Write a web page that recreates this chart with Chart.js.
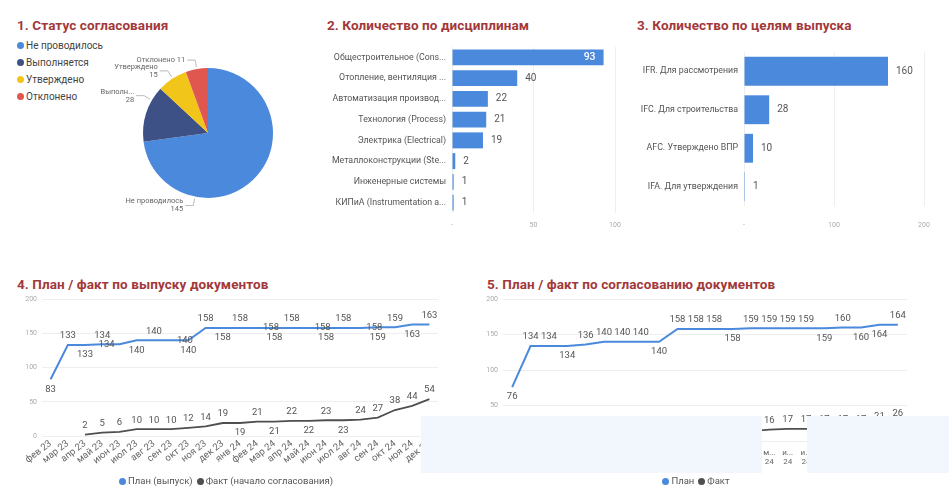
<!DOCTYPE html>
<html><head><meta charset="utf-8">
<script src="https://cdn.jsdelivr.net/npm/chart.js@4.4.0/dist/chart.umd.min.js"></script>
<style>
body{margin:0;width:949px;height:493px;background:#fff;position:relative;overflow:hidden;font-family:Roboto,sans-serif}
.box{position:absolute}
.title{position:absolute;font-weight:700;font-size:13.5px;color:#a3383a;white-space:nowrap;line-height:18px;letter-spacing:0.1px}
.mask{position:absolute;background:#f2f6fd;z-index:5}
.plegend{position:absolute;left:17px;top:37px;font-size:10px;color:#444;line-height:17px}
.plegend div{display:flex;align-items:center}
.dot{display:inline-block;width:7px;height:7px;border-radius:50%;margin-right:2px}
.llegend{position:absolute;display:flex;justify-content:center;font-size:9.5px;color:#555;line-height:14px}
.llegend span.it{display:flex;align-items:center;margin:0 2px}
</style></head><body>
<div class="title" style="left:17px;top:16px">1. Статус согласования</div>
<div class="title" style="left:327px;top:16px">2. Количество по дисциплинам</div>
<div class="title" style="left:637px;top:16px">3. Количество по целям выпуска</div>
<div class="title" style="left:17px;top:275px">4. План / факт по выпуску документов</div>
<div class="title" style="left:487px;top:275px">5. План / факт по согласованию документов</div>

<div class="plegend" id="pieLegend"></div>
<div class="box" style="left:60px;top:40px;width:296px;height:186px"><canvas id="c1"></canvas></div>
<div class="box" style="left:320px;top:35px;width:310px;height:200px"><canvas id="c2"></canvas></div>
<div class="box" style="left:630px;top:35px;width:319px;height:200px"><canvas id="c3"></canvas></div>
<div class="box" style="left:0px;top:290px;width:450px;height:190px"><canvas id="c4"></canvas></div>
<div class="box" style="left:470px;top:290px;width:449px;height:190px"><canvas id="c5"></canvas></div>
<div class="llegend" id="leg4" style="left:0;width:452px;top:474px"></div>
<div class="llegend" id="leg5" style="left:470px;width:452px;top:474px"></div>

<div class="mask" style="left:421px;top:416px;width:341px;height:57px"></div>
<div class="mask" style="left:807px;top:416px;width:142px;height:57px"></div>

<script>
// ---------- DATA ----------
const statusLabels = ['Не проводилось','Выполняется','Утверждено','Отклонено'];
const statusValues = [145, 28, 15, 11];

const disciplineLabels = ['Общестроительное (Cons...','Отопление, вентиляция ...','Автоматизация производ...','Технология (Process)','Электрика (Electrical)','Металлоконструкции (Ste...','Инженерные системы','КИПиА (Instrumentation a...'];
const disciplineValues = [93, 40, 22, 21, 19, 2, 1, 1];

const purposeLabels = ['IFR. Для рассмотрения','IFC. Для строительства','AFC. Утверждено ВПР','IFA. Для утверждения'];
const purposeValues = [160, 28, 10, 1];

const months4 = ['фев 23','мар 23','апр 23','май 23','июн 23','июл 23','авг 23','сен 23','окт 23','ноя 23','дек 23','янв 24','фев 24','мар 24','апр 24','май 24','июн 24','июл 24','авг 24','сен 24','окт 24','ноя 24','дек 24'];
const plan4 = [83,133,133,134,134,140,140,140,140,158,158,158,158,158,158,158,158,158,158,159,159,163,163];
const fact4 = [null,null,2,5,6,10,10,10,12,14,19,19,21,21,22,22,23,23,24,27,38,44,54];

const months5 = ['мар 23','апр 23','май 23','июн 23','июл 23','авг 23','сен 23','окт 23','ноя 23','дек 23','янв 24','фев 24','мар 24','апр 24','май 24','июн 24','июл 24','авг 24','сен 24','окт 24','ноя 24','дек 24'];
const plan5 = [76,134,134,134,136,140,140,140,140,158,158,158,158,159,159,159,159,159,160,160,164,164];
const fact5 = [null,null,null,1,2,3,4,5,6,8,9,10,12,14,16,17,17,17,17,17,21,26];

const yTicks = [0, 50, 100, 150, 200];

// ---------- STYLE ----------
const BLUE = '#4a89dc', DARK = '#4f4f4f';
const statusColors = ['#4a89dc','#3e5187','#f2c51a','#e0574f'];
const FONT = 'Roboto';
// label placement for line data labels: a=above, b=below, r/l=on line shifted
const place4Plan = ['b','a','b','a','l','b','a','r','b','a','b','a','r','b','a','r','b','a','r','b','a','b','a'];
const place4Fact = ['','','a','a','a','a','a','a','a','a','a','b','a','b','a','b','a','b','a','a','a','a','a'];
const place5Plan = ['b','a','a','b','a','a','a','a','b','a','a','a','b','a','a','a','a','b','a','b','b','a'];
const place5Fact = ['','','','a','a','a','a','a','a','a','a','a','a','a','a','a','a','a','a','a','a','a'];

Chart.defaults.font.family = FONT;
Chart.defaults.animation = false;

// ---------- PLUGINS ----------
const pieLabels = {
  id: 'pieLabels',
  afterDatasetsDraw(chart, args, opts) {
    const ctx = chart.ctx, meta = chart.getDatasetMeta(0);
    ctx.save();
    ctx.font = '7.5px ' + FONT;
    ctx.fillStyle = '#666'; ctx.strokeStyle = '#bbb'; ctx.lineWidth = 1;
    ctx.textBaseline = 'middle';
    meta.data.forEach((arc, i) => {
      const p = arc.getProps(['x','y','startAngle','endAngle','outerRadius'], true);
      const a = p.startAngle + (p.endAngle - p.startAngle) * opts.frac[i];
      const c = Math.cos(a), s = Math.sin(a);
      const x1 = p.x + c*(p.outerRadius+2), y1 = p.y + s*(p.outerRadius+2);
      const x2 = p.x + c*(p.outerRadius+9), y2 = p.y + s*(p.outerRadius+9);
      const dir = c < 0 ? -1 : 1;
      const x3 = x2 + dir*8;
      ctx.beginPath(); ctx.moveTo(x1,y1); ctx.lineTo(x2,y2); ctx.lineTo(x3,y2); ctx.stroke();
      let name = chart.data.labels[i];
      const mc = opts.maxChars[i];
      if (mc && name.length > mc) name = name.slice(0, mc) + '...';
      const val = chart.data.datasets[0].data[i];
      ctx.textAlign = dir < 0 ? 'right' : 'left';
      const tx = x3 + dir*2;
      if (opts.single[i]) {
        ctx.fillText(name + ' ' + val, tx, y2);
      } else {
        ctx.fillText(name, tx, y2 - 4);
        ctx.fillText(String(val), tx, y2 + 4);
      }
    });
    ctx.restore();
  }
};

const barLabels = {
  id: 'barLabels',
  afterDatasetsDraw(chart) {
    const ctx = chart.ctx, meta = chart.getDatasetMeta(0), data = chart.data.datasets[0].data;
    ctx.save();
    ctx.font = '10px ' + FONT; ctx.textBaseline = 'middle';
    meta.data.forEach((bar, i) => {
      const t = String(data[i]); const w = ctx.measureText(t).width;
      if (bar.x + 8 + w > chart.chartArea.right) {
        ctx.fillStyle = '#fff'; ctx.textAlign = 'right'; ctx.font = '500 10.5px ' + FONT;
        ctx.fillText(t, bar.x - 8, bar.y);
        ctx.font = '10px ' + FONT;
      } else {
        ctx.fillStyle = '#555'; ctx.textAlign = 'left';
        ctx.fillText(t, bar.x + 8, bar.y);
      }
    });
    ctx.restore();
  }
};

const lineLabels = {
  id: 'lineLabels',
  afterDatasetsDraw(chart, args, opts) {
    const ctx = chart.ctx;
    ctx.save();
    ctx.font = '9.5px ' + FONT; ctx.fillStyle = '#555';
    ctx.textAlign = 'center'; ctx.textBaseline = 'middle';
    chart.data.datasets.forEach((ds, di) => {
      const meta = chart.getDatasetMeta(di), pl = opts.place[di];
      const step = meta.data[1].x - meta.data[0].x;
      meta.data.forEach((pt, i) => {
        const v = ds.data[i]; const k = pl[i];
        if (v == null || !k) return;
        let x = pt.x, y = pt.y;
        if (k === 'a') y -= 9;
        else if (k === 'b') y += 10;
        else if (k === 'r') x += 0.8*step;
        else if (k === 'l') x -= 0.75*step;
        ctx.fillText(String(v), x, y);
      });
    });
    ctx.restore();
  }
};

// ---------- CHART 1 ----------
new Chart(document.getElementById('c1'), {
  type: 'pie',
  data: { labels: statusLabels, datasets: [{ data: statusValues, backgroundColor: statusColors, borderWidth: 0 }] },
  options: {
    responsive: true, maintainAspectRatio: false,
    layout: { padding: { top: 28, bottom: 28, left: 83, right: 83 } },
    plugins: { legend: { display: false }, tooltip: { enabled: false },
      pieLabels: { frac: [0.73, 0.75, 0.52, 0.5], maxChars: [0, 6, 0, 0], single: [false, false, false, true] } }
  },
  plugins: [pieLabels]
});
document.getElementById('pieLegend').innerHTML = statusLabels.map((l, i) =>
  `<div><span class="dot" style="background:${statusColors[i]}"></span>${l}</div>`).join('');

// ---------- BAR CHARTS ----------
function barChart(id, labels, values, max, step, yWidth, xHeight, pad, catPct, xPad) {
  return new Chart(document.getElementById(id), {
    type: 'bar',
    data: { labels, datasets: [{ data: values, backgroundColor: BLUE, borderWidth: 0, categoryPercentage: catPct, barPercentage: 1 }] },
    options: {
      indexAxis: 'y', responsive: true, maintainAspectRatio: false,
      layout: { padding: pad },
      scales: {
        x: { min: 0, max, border: { display: false },
             grid: { color: '#eeeeee', drawTicks: false },
             ticks: { stepSize: step, padding: xPad, color: '#aaa', font: { size: 7 }, callback: v => v === 0 ? '-' : v },
             afterFit: s => { s.height = xHeight; } },
        y: { border: { display: false }, grid: { display: false, drawTicks: false },
             ticks: { color: '#555', font: { size: 8.8 }, padding: 6 },
             afterFit: s => { s.width = yWidth; } }
      },
      plugins: { legend: { display: false }, tooltip: { enabled: false } }
    },
    plugins: [barLabels]
  });
}
barChart('c2', disciplineLabels, disciplineValues, 100, 50, 132, 22, { top: 12, right: 15, left: 0, bottom: 0 }, 0.77, 8);
barChart('c3', purposeLabels, purposeValues, 200, 100, 114, 29, { top: 17, right: 25, left: 0, bottom: 0 }, 0.75, 15);

// ---------- LINE CHARTS ----------
function lineChart(id, labels, plan, fact, planLabel, factLabel, places, yWidth, xHeight, padRight, xTicks, legendId) {
  const ch = new Chart(document.getElementById(id), {
    type: 'line',
    data: { labels, datasets: [
      { label: planLabel, data: plan, borderColor: BLUE, backgroundColor: BLUE, borderWidth: 2, pointRadius: 0, tension: 0 },
      { label: factLabel, data: fact, borderColor: DARK, backgroundColor: DARK, borderWidth: 1.8, pointRadius: 0, tension: 0 }
    ] },
    options: {
      responsive: true, maintainAspectRatio: false,
      layout: { padding: { top: 9, right: padRight, left: 0, bottom: 0 } },
      scales: {
        x: { offset: true, border: { display: false }, grid: { display: false, drawTicks: false },
             afterFit: s => { s.height = xHeight; }, ticks: xTicks },
        y: { min: 0, max: 200, border: { display: false },
             grid: { color: '#eeeeee', drawTicks: false },
             afterBuildTicks: s => { s.ticks = yTicks.map(v => ({ value: v })); },
             ticks: { color: '#aaa', font: { size: 7 }, padding: 5 },
             afterFit: s => { s.width = yWidth; } }
      },
      plugins: { legend: { display: false }, tooltip: { enabled: false }, lineLabels: { place: places } }
    },
    plugins: [lineLabels]
  });
  document.getElementById(legendId).innerHTML = ch.data.datasets.map(d =>
    `<span class="it"><span class="dot" style="background:${d.borderColor}"></span>${d.label}</span>`).join('');
  return ch;
}
lineChart('c4', months4, plan4, fact4, 'План (выпуск)', 'Факт (начало согласования)', [place4Plan, place4Fact], 42, 44, 12,
  { autoSkip: false, maxRotation: 38, minRotation: 38, padding: 2, color: '#666', font: { size: 9.5 } }, 'leg4');
lineChart('c5', months5, plan5, fact5, 'План', 'Факт', [place5Plan, place5Fact], 33, 39, 12,
  { autoSkip: false, maxRotation: 0, minRotation: 0, padding: 7, color: '#666', font: { size: 8 },
    callback: function(v) { const p = this.getLabelForValue(v).split(' '); return [p[0].charAt(0) + '...', p[1]]; } }, 'leg5');
</script>
</body></html>
